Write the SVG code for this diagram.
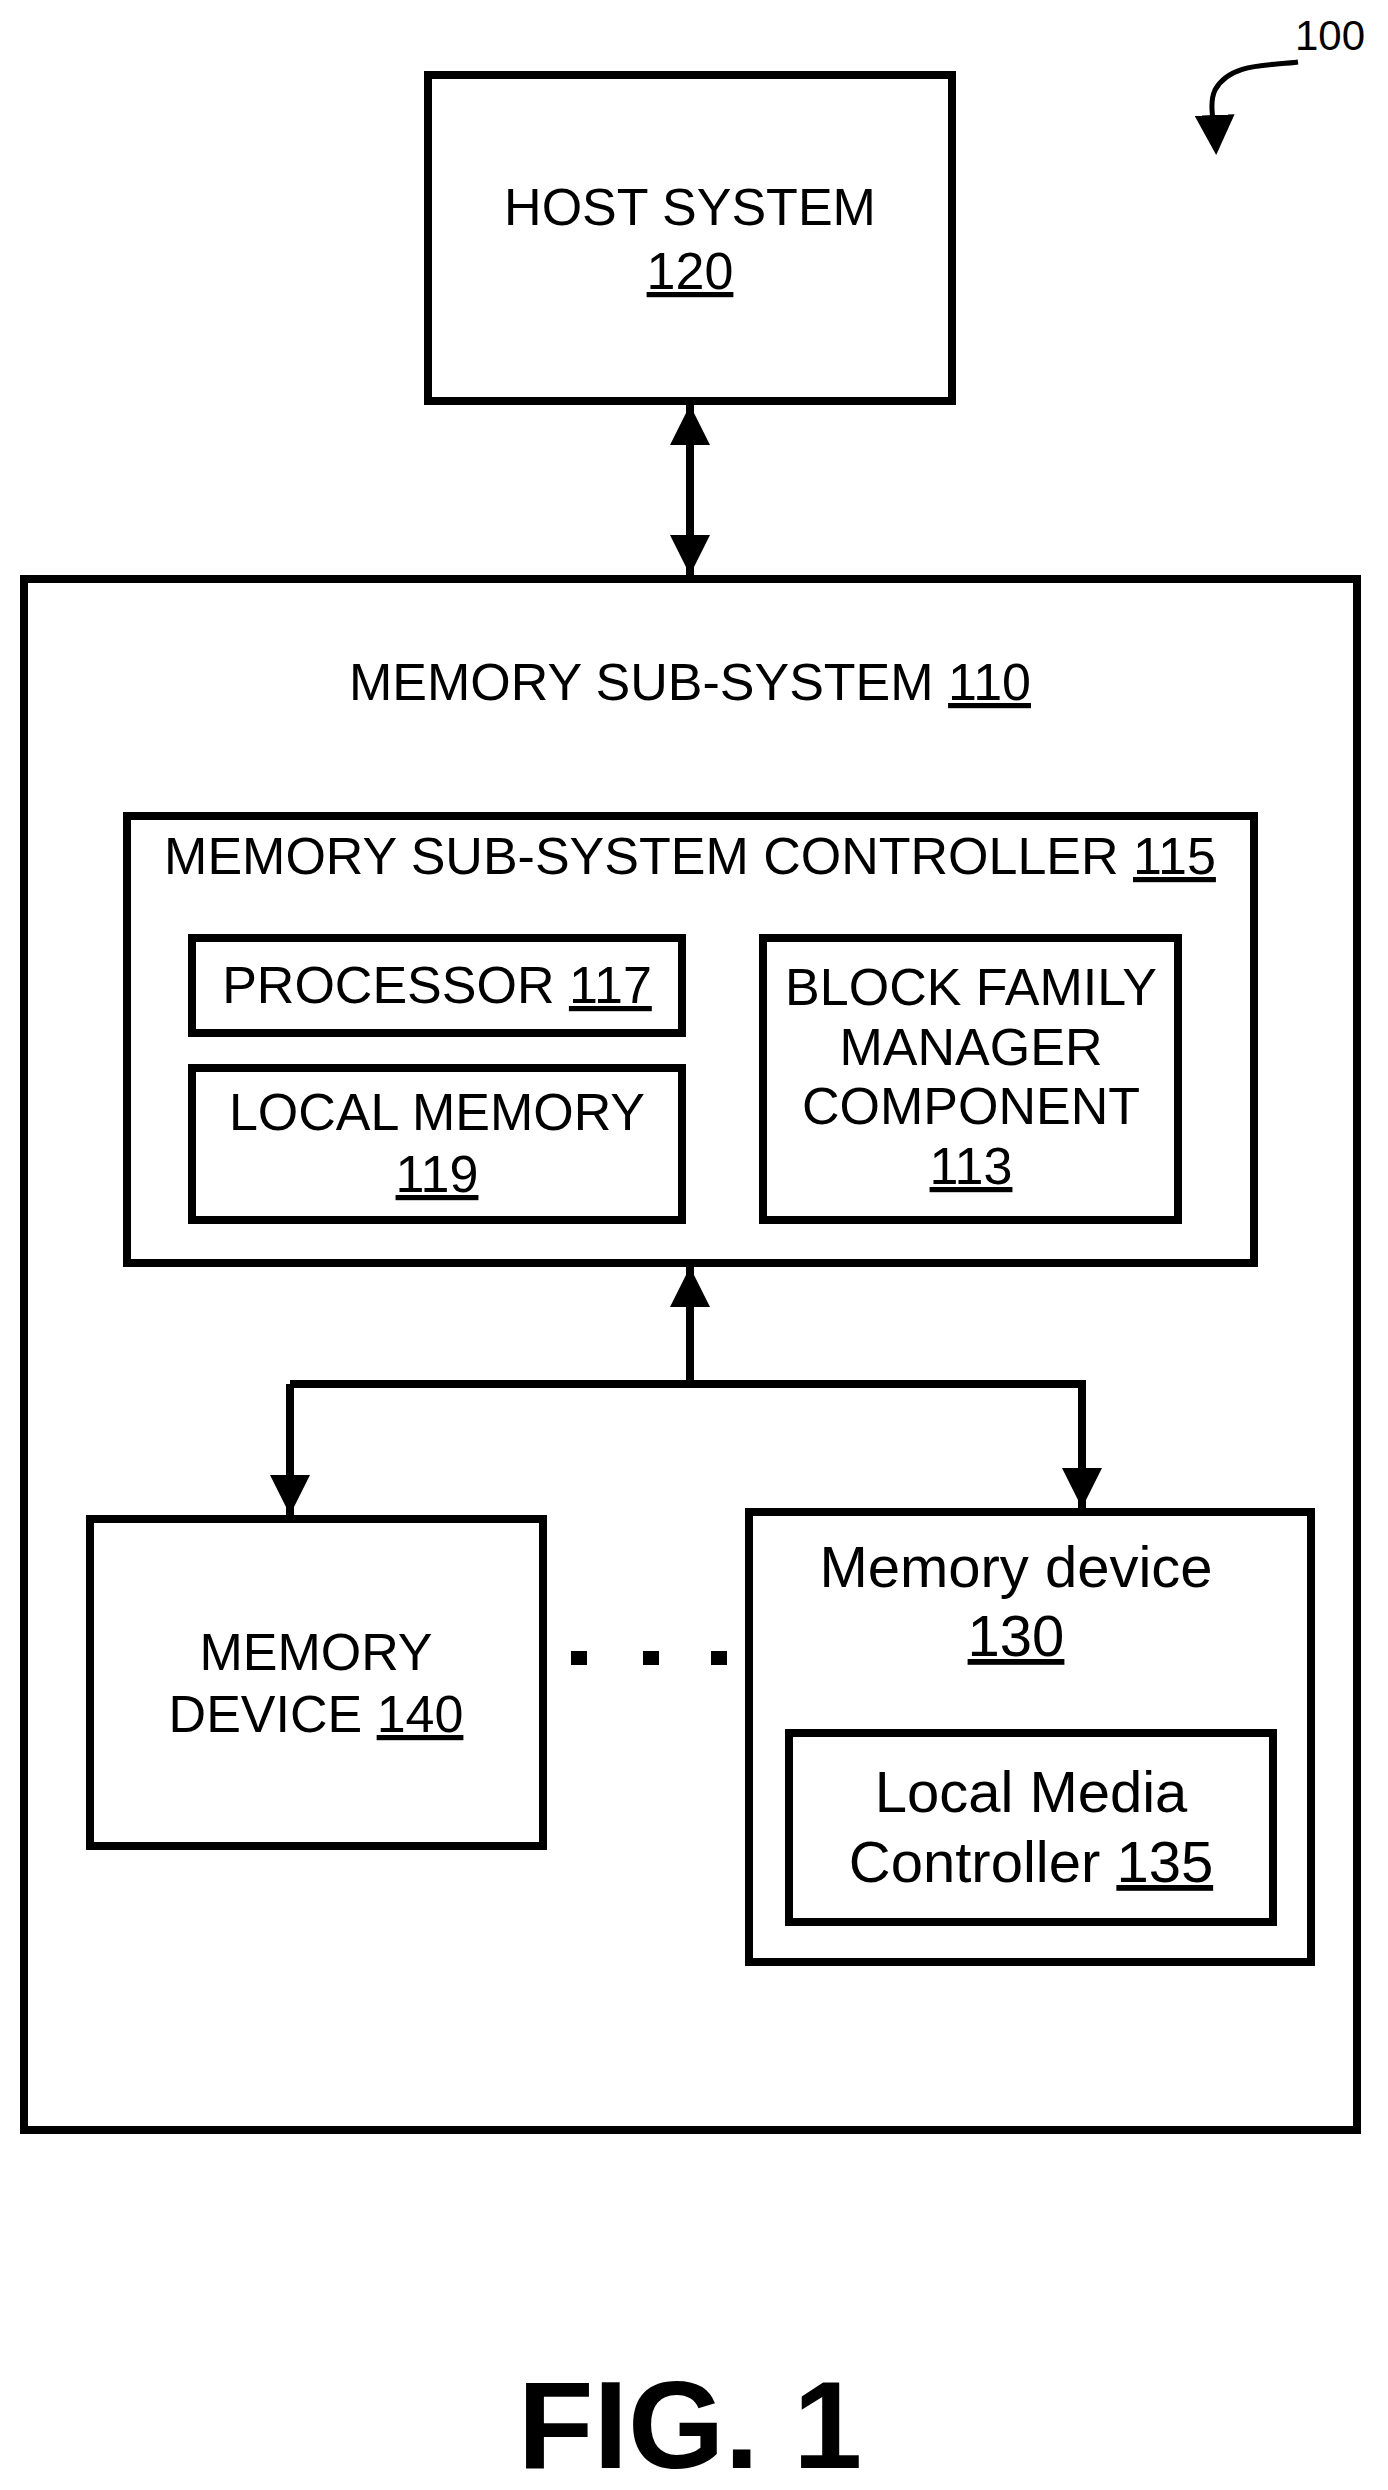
<svg xmlns="http://www.w3.org/2000/svg" width="1388" height="2490" viewBox="0 0 1388 2490">
<style>
.b{fill:none;stroke:#000;stroke-width:8}
.t{font-family:"Liberation Sans",Arial,sans-serif;font-size:52px;fill:#000;text-anchor:middle}
.m{font-size:58px}
.c{stroke:#000;stroke-width:8;fill:none}
</style>
<defs>
<marker id="ah" markerWidth="5" markerHeight="5" refX="5" refY="2.5" orient="auto-start-reverse" markerUnits="strokeWidth"><path d="M0,0 L5,2.5 L0,5 Z" fill="#000"/></marker>
<marker id="ah2" markerWidth="8" markerHeight="8" refX="7" refY="4" orient="auto" markerUnits="strokeWidth"><path d="M0,0 L8,4 L0,8 Z" fill="#000"/></marker>
</defs>
<rect width="1388" height="2490" fill="#fff"/>
<g id="host"><rect class="b" x="428" y="75" width="524" height="326"/>
<text class="t" x="690" y="225">HOST SYSTEM</text><text class="t" x="690" y="289" text-decoration="underline">120</text></g>
<g id="mss"><rect class="b" x="24" y="579" width="1333" height="1551"/>
<text class="t" x="690" y="700">MEMORY SUB-SYSTEM <tspan text-decoration="underline">110</tspan></text></g>
<g id="ctrl"><rect class="b" x="127" y="816" width="1127" height="447"/>
<text class="t" x="690" y="874">MEMORY SUB-SYSTEM CONTROLLER <tspan text-decoration="underline">115</tspan></text></g>
<g id="proc"><rect class="b" x="192" y="938" width="490" height="95"/>
<text class="t" x="437" y="1003">PROCESSOR <tspan text-decoration="underline">117</tspan></text></g>
<g id="lmem"><rect class="b" x="192" y="1068" width="490" height="152"/>
<text class="t" x="437" y="1130">LOCAL MEMORY</text><text class="t" x="437" y="1192" text-decoration="underline">119</text></g>
<g id="bfm"><rect class="b" x="763" y="938" width="415" height="282"/>
<text class="t" x="971" y="1005">BLOCK FAMILY</text><text class="t" x="971" y="1065">MANAGER</text><text class="t" x="971" y="1124">COMPONENT</text><text class="t" x="971" y="1184" text-decoration="underline">113</text></g>
<g id="md140"><rect class="b" x="90" y="1519" width="453" height="327"/>
<text class="t" x="316" y="1670">MEMORY</text><text class="t" x="316" y="1732">DEVICE <tspan text-decoration="underline">140</tspan></text></g>
<g id="md130"><rect class="b" x="749" y="1512" width="562" height="450"/>
<text class="t m" x="1016" y="1587">Memory device</text><text class="t m" x="1016" y="1656" text-decoration="underline">130</text></g>
<g id="lmc"><rect class="b" x="789" y="1733" width="484" height="189"/>
<text class="t m" x="1031" y="1812">Local Media</text><text class="t m" x="1031" y="1882">Controller <tspan text-decoration="underline">135</tspan></text></g>
<g id="connectors">
<line class="c" x1="690" y1="405" x2="690" y2="575" marker-start="url(#ah)" marker-end="url(#ah)"/>
<line class="c" x1="690" y1="1384" x2="690" y2="1267" marker-end="url(#ah)"/>
<polyline class="c" points="290,1384 1082,1384 1082,1508" marker-end="url(#ah)"/>
<line class="c" x1="290" y1="1384" x2="290" y2="1515" marker-end="url(#ah)"/>
<path class="c" d="M1298,62 C1270,66 1230,62 1215,90 C1208,105 1215,125 1216,150" marker-end="url(#ah2)" style="stroke-width:5"/>
</g>
<g id="dots" fill="#000"><rect x="571" y="1651" width="16" height="14"/><rect x="643" y="1651" width="16" height="14"/><rect x="711" y="1651" width="16" height="14"/></g>
<text class="t" x="1330" y="50" style="font-size:42px">100</text>
<text class="t" x="690" y="2468" style="font-size:124px;font-weight:bold">FIG. 1</text>
</svg>
